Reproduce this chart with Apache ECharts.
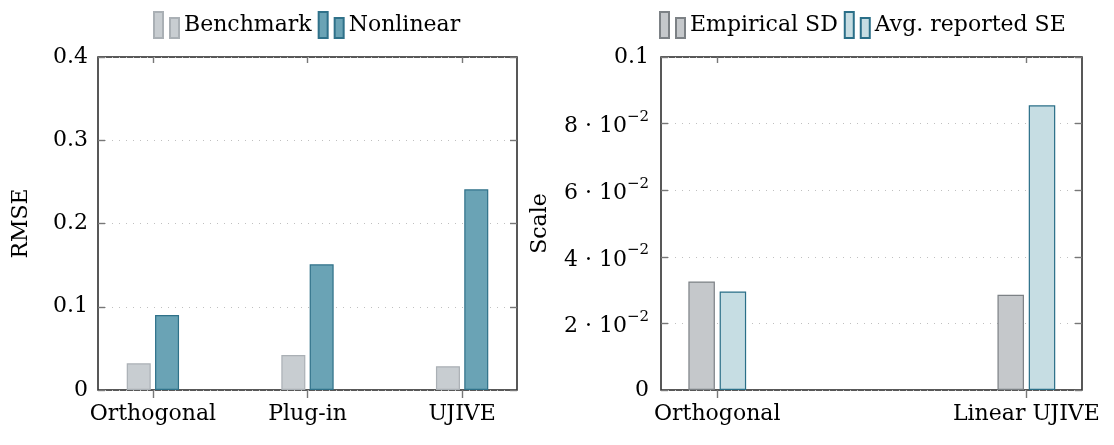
<!DOCTYPE html>
<html><head><meta charset="utf-8">
<script src="https://cdn.jsdelivr.net/npm/echarts@6/dist/echarts.min.js"></script>
<style>html,body{margin:0;padding:0;background:#fff}#c{width:1114px;height:445px}</style>
</head><body><div id="c"></div>
<script>
// Left panel data
const leftCategories = ['Orthogonal', 'Plug-in', 'UJIVE'];
const benchmark = [0.032, 0.042, 0.0285];
const nonlinear = [0.090, 0.151, 0.241];
const leftTicks = [0, 0.1, 0.2, 0.3, 0.4];
// Right panel data
const rightCategories = ['Orthogonal', 'Linear UJIVE'];
const empiricalSD = [0.0326, 0.0286];
const avgReportedSE = [0.0296, 0.0855];
const rightTicks = [0, 0.02, 0.04, 0.06, 0.08, 0.1];

const FONT = 'DejaVu Serif';
const FS = 22;
const TXT = '#000';
const chart = echarts.init(document.getElementById('c'), null, {renderer: 'canvas'});

const legendIcon = 'path://M0,0h9v26h-9z M16,6h9v20h-9z';

function toPairs(arr) { return arr.map((v, i) => [i, v]); }

function rightLabel(v) {
  if (v === 0) return '0';
  if (Math.abs(v - 0.1) < 1e-9) return '0.1';
  const m = Math.round(v * 100);
  return '{b|' + m + ' · 10}{s|−2}';
}

const tickStyle = {color: '#777', width: 1.4};

function xAxes(grid, min, max, vals, cats) {
  return [
    {
      gridIndex: grid, type: 'value', min: min, max: max,
      axisLine: {show: false, onZero: false},
      splitLine: {show: false},
      axisTick: {show: true, customValues: vals, length: 8, lineStyle: tickStyle},
      axisLabel: {customValues: vals, margin: 13, fontFamily: FONT, fontSize: FS, color: TXT,
        formatter: v => cats[Math.round(v)]}
    },
    {
      gridIndex: grid, type: 'value', min: min, max: max, position: 'top',
      axisLine: {show: false, onZero: false}, splitLine: {show: false}, axisLabel: {show: false},
      axisTick: {show: true, inside: true, customValues: vals, length: 6, lineStyle: tickStyle}
    }
  ];
}

const option = {
  animation: false,
  textStyle: {fontFamily: FONT},
  legend: [
    {
      left: 148, top: 6, itemWidth: 25, itemHeight: 26, itemGap: 6,
      icon: legendIcon,
      textStyle: {fontFamily: FONT, fontSize: FS, color: TXT, padding: [2, 0, 0, 0]},
      data: ['Benchmark', 'Nonlinear']
    },
    {
      left: 654, top: 6, itemWidth: 25, itemHeight: 26, itemGap: 6,
      icon: legendIcon,
      textStyle: {fontFamily: FONT, fontSize: FS, color: TXT, padding: [2, 0, 0, 0]},
      data: ['Empirical SD', 'Avg. reported SE']
    }
  ],
  grid: [
    {left: 98, right: 597, top: 57, bottom: 55, show: true, borderColor: '#222', borderWidth: 1.5, backgroundColor: 'transparent'},
    {left: 661, right: 32, top: 57, bottom: 55, show: true, borderColor: '#222', borderWidth: 1.5, backgroundColor: 'transparent'}
  ],
  xAxis: [].concat(
    xAxes(0, -0.355, 2.355, [0, 1, 2], leftCategories),
    xAxes(1, -0.182, 1.18, [0, 1], rightCategories)
  ),
  yAxis: [
    {
      gridIndex: 0, type: 'value', min: 0, max: 0.4, interval: 0.1,
      name: 'RMSE', nameLocation: 'middle', nameGap: 66,
      nameTextStyle: {fontFamily: FONT, fontSize: FS, color: TXT},
      axisLine: {show: false, onZero: false},
      axisTick: {show: true, inside: true, length: 7, lineStyle: tickStyle},
      axisLabel: {margin: 10, fontFamily: FONT, fontSize: FS, color: TXT,
        formatter: v => (v === 0 ? '0' : String(Math.round(v * 10) / 10))},
      splitLine: {show: true, lineStyle: {color: '#c0c0c0', type: [1, 6], width: 1.2}}
    },
    {
      gridIndex: 0, type: 'value', min: 0, max: 0.4, interval: 0.1, position: 'right',
      axisLine: {show: false, onZero: false}, axisLabel: {show: false}, splitLine: {show: false},
      axisTick: {show: true, inside: true, length: 7, lineStyle: tickStyle}
    },
    {
      gridIndex: 1, type: 'value', min: 0, max: 0.1, interval: 0.02,
      name: 'Scale', nameLocation: 'middle', nameGap: 110,
      nameTextStyle: {fontFamily: FONT, fontSize: FS, color: TXT},
      axisLine: {show: false, onZero: false},
      axisTick: {show: true, inside: true, length: 7, lineStyle: tickStyle},
      axisLabel: {margin: 12, fontFamily: FONT, fontSize: FS, color: TXT,
        formatter: rightLabel,
        rich: {
          b: {fontFamily: FONT, fontSize: FS, color: TXT, lineHeight: 28, verticalAlign: 'bottom'},
          s: {fontFamily: FONT, fontSize: 15, color: TXT, lineHeight: 28, verticalAlign: 'top'}
        }},
      splitLine: {show: true, lineStyle: {color: '#c0c0c0', type: [1, 6], width: 1.2}}
    },
    {
      gridIndex: 1, type: 'value', min: 0, max: 0.1, interval: 0.02, position: 'right',
      axisLine: {show: false, onZero: false}, axisLabel: {show: false}, splitLine: {show: false},
      axisTick: {show: true, inside: true, length: 7, lineStyle: tickStyle}
    }
  ],
  series: [
    {
      name: 'Benchmark', type: 'bar', xAxisIndex: 0, yAxisIndex: 0,
      barWidth: 24, barGap: '18%',
      itemStyle: {color: '#c8cdd1', borderColor: '#aab0b5', borderWidth: 1.2},
      data: toPairs(benchmark)
    },
    {
      name: 'Nonlinear', type: 'bar', xAxisIndex: 0, yAxisIndex: 0,
      barWidth: 24, barGap: '18%',
      itemStyle: {color: '#6aa3b5', borderColor: '#2f7189', borderWidth: 1.2},
      data: toPairs(nonlinear)
    },
    {
      name: 'Empirical SD', type: 'bar', xAxisIndex: 2, yAxisIndex: 2,
      barWidth: 26.5, barGap: '18%',
      itemStyle: {color: '#c5c8cb', borderColor: '#7c8185', borderWidth: 1.2},
      data: toPairs(empiricalSD)
    },
    {
      name: 'Avg. reported SE', type: 'bar', xAxisIndex: 2, yAxisIndex: 2,
      barWidth: 26.5, barGap: '18%',
      itemStyle: {color: '#c6dde3', borderColor: '#2a6f88', borderWidth: 1.2},
      data: toPairs(avgReportedSE)
    }
  ]
};
chart.setOption(option);
</script>
</body></html>
